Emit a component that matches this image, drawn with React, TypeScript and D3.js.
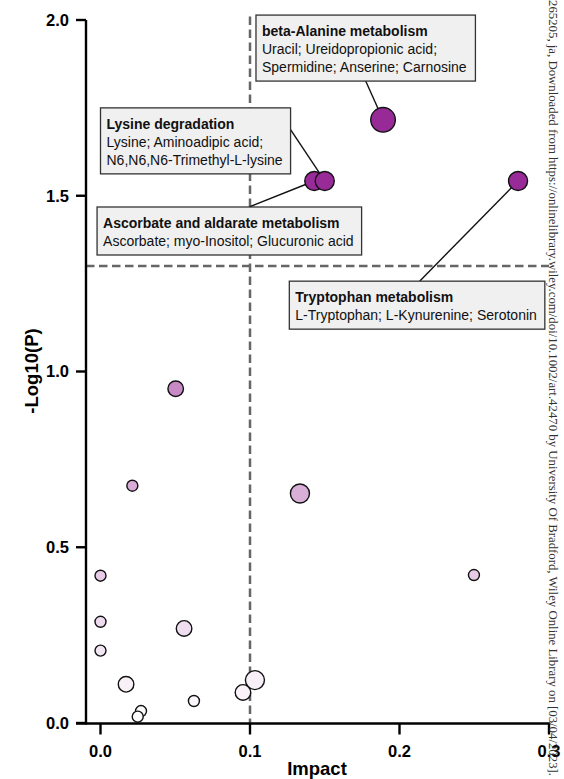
import React from "react";
import * as d3 from "d3";

// ---- data ----
const impact = [0.189, 0.143, 0.150, 0.2793, 0.0503, 0.0213, 0.1334, 0.0, 0.0, 0.0559, 0.0, 0.0171, 0.0271, 0.0249, 0.0625, 0.0953, 0.1033, 0.2498];
const negLogP = [1.716, 1.542, 1.542, 1.542, 0.951, 0.675, 0.653, 0.419, 0.288, 0.269, 0.206, 0.110, 0.034, 0.018, 0.0626, 0.087, 0.122, 0.421];
const hits = [5, 3, 3, 3, 2, 1, 3, 1, 1, 2, 1, 2, 1, 1, 1, 2, 3, 1];

const xTicks = [0, 0.1, 0.2, 0.3];
const yTicks = [0, 0.5, 1.0, 1.5, 2.0];
const impactThreshold = 0.1;
const pThreshold = 1.3;

const annotTitles = ["beta-Alanine metabolism", "Lysine degradation", "Ascorbate and aldarate metabolism", "Tryptophan metabolism"];
const annotLines = [
  ["Uracil; Ureidopropionic acid;", "Spermidine; Anserine; Carnosine"],
  ["Lysine; Aminoadipic acid;", "N6,N6,N6-Trimethyl-L-lysine"],
  ["Ascorbate; myo-Inositol; Glucuronic acid"],
  ["L-Tryptophan; L-Kynurenine; Serotonin"],
];
const annotPoint = [0, 2, 1, 3];
// box top-left corner in data units
const annotBoxX = [0.104, 0.0, -0.0023, 0.1263];
const annotBoxY = [2.014, 1.75, 1.468, 1.257];
// connector side and fraction along side
const annotSide = ["bottom", "right", "top", "top"];
const annotFrac = [0.5, 0.33, 0.575, 0.51];

const watermark = "265205, ja, Downloaded from https://onlinelibrary.wiley.com/doi/10.1002/art.42470 by University Of Bradford, Wiley Online Library on [03/04/2023]. Se";

// ---- layout ----
const W = 564, H = 779;
const FONT = "Arial, 'Liberation Sans', Helvetica, sans-serif";
const x = d3.scaleLinear().domain([0, 0.3]).range([100.5, 549]);
const y = d3.scaleLinear().domain([0, 2]).range([723, 20]);
const r = d3.scaleSqrt().domain([0, 5]).range([0, 12.3]);
const color = d3.scaleLinear<string>().domain([0, 0.95, 1.55]).range(["#ffffff", "#c88ac6", "#982a98"]).clamp(true);
const axisX = 86;
const axisY = 723.5;

const ctx = document.createElement("canvas").getContext("2d");
function measure(t: string, font: string) {
  if (!ctx) return t.length * 7;
  ctx.font = font;
  return ctx.measureText(t).width;
}

const FS = 14;
const LINE_H = 18;
const PAD_X = 6;
const FIRST_BASE = 21;
const PAD_B = 9;

export default function App() {
  const boxes = annotTitles.map((title, i) => {
    const lines = annotLines[i];
    const w = Math.max(
      measure(title, `bold ${FS}px 'Liberation Sans'`),
      ...lines.map((l) => measure(l, `${FS}px 'Liberation Sans'`))
    ) + PAD_X * 2 + 2;
    const n = lines.length + 1;
    const h = FIRST_BASE + (n - 1) * LINE_H + PAD_B;
    const bx = x(annotBoxX[i]);
    const by = y(annotBoxY[i]);
    let sx = bx, sy = by;
    const f = annotFrac[i];
    if (annotSide[i] === "bottom") { sx = bx + w * f; sy = by + h; }
    else if (annotSide[i] === "top") { sx = bx + w * f; sy = by; }
    else if (annotSide[i] === "right") { sx = bx + w; sy = by + h * f; }
    else { sx = bx; sy = by + h * f; }
    const p = annotPoint[i];
    return { title, lines, w, h, bx, by, sx, sy, px: x(impact[p]), py: y(negLogP[p]) };
  });

  const order = d3.range(impact.length).sort((a, b) => hits[b] - hits[a]);

  return (
    <svg width={W} height={H} style={{ position: "absolute", left: 0, top: 0, background: "#fff" }} fontFamily={FONT}>
      <rect width={W} height={H} fill="#fff" />
      {/* threshold lines */}
      <line x1={x(impactThreshold)} x2={x(impactThreshold)} y1={y(2.01)} y2={axisY} stroke="#666" strokeWidth={2.5} strokeDasharray="8.5,4.5" />
      <line x1={axisX} x2={x(0.3)} y1={y(pThreshold)} y2={y(pThreshold)} stroke="#666" strokeWidth={2.5} strokeDasharray="8.5,4.5" />

      {/* connectors */}
      {boxes.map((b, i) => (
        <line key={"c" + i} x1={b.sx} y1={b.sy} x2={b.px} y2={b.py} stroke="#111" strokeWidth={1.4} />
      ))}

      {/* points */}
      {order.map((i) => (
        <circle key={"p" + i} cx={x(impact[i])} cy={y(negLogP[i])} r={r(hits[i])} fill={color(negLogP[i])} stroke="#111" strokeWidth={1.4} />
      ))}

      {/* boxes */}
      {boxes.map((b, i) => (
        <g key={"b" + i}>
          <rect x={b.bx} y={b.by} width={b.w} height={b.h} fill="#f0f0f0" stroke="#333" strokeWidth={1.3} />
          <text x={b.bx + PAD_X} y={b.by + FIRST_BASE} fontSize={FS} fontWeight="bold" fill="#111">{b.title}</text>
          {b.lines.map((l, j) => (
            <text key={j} x={b.bx + PAD_X} y={b.by + FIRST_BASE + (j + 1) * LINE_H} fontSize={FS} fill="#111">{l}</text>
          ))}
        </g>
      ))}

      {/* axes */}
      <line x1={axisX} x2={axisX} y1={y(2)} y2={axisY + 1} stroke="#000" strokeWidth={2.4} />
      <line x1={axisX - 10} x2={x(0.3) + 1.2} y1={axisY} y2={axisY} stroke="#000" strokeWidth={2.4} />
      {yTicks.map((t) => (
        <g key={"yt" + t}>
          <line x1={axisX - 10} x2={axisX} y1={y(t)} y2={y(t)} stroke="#000" strokeWidth={2.4} />
          <text x={axisX - 17} y={y(t)} dy="0.36em" textAnchor="end" fontSize={16.5} fontWeight="bold" fill="#000">{d3.format(".1f")(t)}</text>
        </g>
      ))}
      {xTicks.map((t) => (
        <g key={"xt" + t}>
          <line x1={x(t)} x2={x(t)} y1={axisY} y2={axisY + 11} stroke="#000" strokeWidth={2.4} />
          <text x={x(t)} y={757} textAnchor="middle" fontSize={16.5} fontWeight="bold" fill="#000">{d3.format(".1f")(t)}</text>
        </g>
      ))}
      <text x={317} y={775} textAnchor="middle" fontSize={18.5} fontWeight="bold" fill="#000">Impact</text>
      <text transform={`translate(38, 371) rotate(-90)`} textAnchor="middle" fontSize={18.5} fontWeight="bold" fill="#000">-Log10(P)</text>

      {/* watermark */}
      <text transform="translate(549, 0) rotate(90)" x={0} y={0} fontSize={11.5} fontFamily="'Liberation Serif', 'Times New Roman', serif" fill="#333" textLength={792} lengthAdjust="spacingAndGlyphs">{watermark}</text>
    </svg>
  );
}
